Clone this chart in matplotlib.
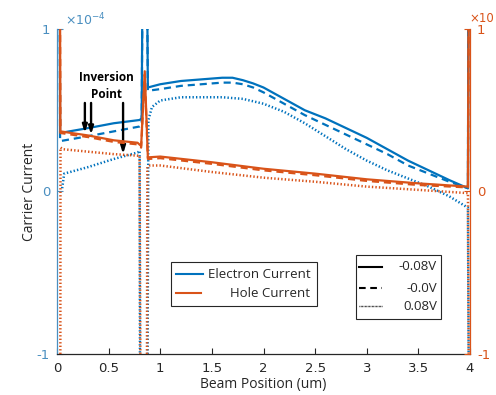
import matplotlib
matplotlib.use("Agg")
import matplotlib.pyplot as plt
from matplotlib.patches import Rectangle

plt.rcParams["axes.unicode_minus"] = False
plt.rcParams["font.family"] = ["DejaVu Sans"]

BLUE = "#0072BD"
ORANGE = "#D95319"
LEFT_AXIS = "#4a8fc0"
TEXT = "#262626"
UI_FONT = "Open Sans"

# ---- Electron current (left axis, x1e-4) ----
e_x_neg = [0.025, 0.03, 0.30, 0.55, 0.80, 0.82, 0.83, 0.87, 0.88, 1.0, 1.2, 1.4, 1.6, 1.7,
           1.8, 1.9, 2.0, 2.1, 2.2, 2.4, 2.6, 2.8, 3.0, 3.2, 3.4, 3.6, 3.8, 3.98, 3.985]
e_y_neg = [1.5, 0.36, 0.39, 0.42, 0.44, 0.45, 1.5, 1.5, 0.64, 0.66, 0.68, 0.69, 0.70, 0.70,
           0.685, 0.665, 0.64, 0.605, 0.57, 0.50, 0.45, 0.39, 0.33, 0.26, 0.19, 0.13, 0.07,
           0.02, 1.5]

e_x_zero = [0.025, 0.03, 0.30, 0.55, 0.80, 0.82, 0.83, 0.87, 0.88, 1.0, 1.2, 1.4, 1.6, 1.7,
            1.8, 1.9, 2.0, 2.1, 2.2, 2.4, 2.6, 2.8, 3.0, 3.2, 3.4, 3.6, 3.8, 3.98, 3.985]
e_y_zero = [1.5, 0.31, 0.34, 0.37, 0.40, 0.41, 1.5, 1.5, 0.62, 0.63, 0.65, 0.66, 0.67, 0.67,
            0.66, 0.64, 0.61, 0.575, 0.54, 0.47, 0.41, 0.35, 0.29, 0.23, 0.16, 0.11, 0.06,
            0.02, 1.5]

e_x_pos = [0.05, 0.07, 0.30, 0.55, 0.78, 0.80, 0.805, 0.875, 0.885, 0.92, 1.0, 1.2, 1.4, 1.6,
           1.8, 2.0, 2.2, 2.4, 2.6, 2.8, 3.0, 3.2, 3.4, 3.6, 3.8, 3.98, 3.99]
e_y_pos = [0.02, 0.11, 0.15, 0.20, 0.24, 0.25, -1.5, -1.5, 0.44, 0.52, 0.56, 0.58, 0.58, 0.58,
           0.57, 0.54, 0.49, 0.42, 0.34, 0.26, 0.19, 0.13, 0.08, 0.03, -0.03, -0.10, -1.5]

# ---- Hole current (right axis) ----
h_x_neg = [0.028, 0.033, 0.30, 0.55, 0.78, 0.815, 0.85, 0.88, 1.0, 1.5, 2.0, 2.5, 3.0, 3.5,
           3.98, 3.99]
h_y_neg = [1.5, 0.37, 0.345, 0.315, 0.30, 0.28, 0.74, 0.21, 0.215, 0.18, 0.14, 0.11, 0.075,
           0.05, 0.03, 1.5]

h_x_zero = [0.028, 0.033, 0.30, 0.55, 0.78, 0.815, 0.85, 0.88, 1.0, 1.5, 2.0, 2.5, 3.0, 3.5,
            3.98, 3.99]
h_y_zero = [1.5, 0.36, 0.335, 0.305, 0.29, 0.27, 0.72, 0.20, 0.205, 0.17, 0.13, 0.10, 0.065,
            0.04, 0.025, 1.5]

h_x_pos = [0.032, 0.034, 0.06, 0.30, 0.55, 0.79, 0.80, 0.81, 0.87, 0.875, 0.90, 1.0, 1.5,
           2.0, 2.5, 3.0, 3.5, 3.98, 3.99]
h_y_pos = [-1.5, 0.27, 0.26, 0.245, 0.23, 0.22, 0.22, -1.5, -1.5, 0.15, 0.16, 0.16, 0.12,
           0.085, 0.06, 0.03, 0.01, -0.01, -1.5]

# ---- Inversion point markers (x, y at arrow tip) ----
inv_x = [0.27, 0.33, 0.64]
inv_y = [0.36, 0.35, 0.23]
inv_tail = 0.545

x_ticks = [0, 0.5, 1, 1.5, 2, 2.5, 3, 3.5, 4]
x_tick_labels = ["0", "0.5", "1", "1.5", "2", "2.5", "3", "3.5", "4"]
y_ticks = [-1, 0, 1]
y_tick_labels = ["-1", "0", "1"]

bias_labels = ["-0.08V", "-0.0V", "0.08V"]
carrier_labels = ["Electron Current", "Hole Current"]

fig = plt.figure(figsize=(4.96, 3.95), dpi=100)
ax = fig.add_axes([0.1149, 0.1038, 0.8327, 0.8228])
ax2 = ax.twinx()

LW = 1.6
DOT = dict(lw=1.8, ls=":", dashes=(0.55, 0.85))
ax.plot(e_x_neg, e_y_neg, color=BLUE, lw=LW, ls="-")
ax.plot(e_x_zero, e_y_zero, color=BLUE, lw=LW, ls="--", dashes=(3.2, 2.2))
ax.plot(e_x_pos, e_y_pos, color=BLUE, **DOT)

ax2.plot(h_x_neg, h_y_neg, color=ORANGE, lw=LW, ls="-")
ax2.plot(h_x_zero, h_y_zero, color=ORANGE, lw=LW, ls="--", dashes=(3.2, 2.2))
ax2.plot(h_x_pos, h_y_pos, color=ORANGE, **DOT)

for a in (ax, ax2):
    a.set_xlim(0, 4)
    a.set_ylim(-1, 1)
    a.spines["top"].set_visible(False)

ax.spines["right"].set_visible(False)
ax.spines["left"].set_color(LEFT_AXIS)
ax.spines["bottom"].set_color(TEXT)
ax2.spines["left"].set_visible(False)
ax2.spines["bottom"].set_visible(False)
ax2.spines["right"].set_color(ORANGE)
for a in (ax, ax2):
    for s in a.spines.values():
        s.set_linewidth(0.9)

ax.set_xticks(x_ticks)
ax.set_xticklabels(x_tick_labels)
ax.set_yticks(y_ticks)
ax.set_yticklabels(y_tick_labels)
ax2.set_yticks(y_ticks)
ax2.set_yticklabels(y_tick_labels)

ax.tick_params(axis="x", direction="in", length=4, width=0.8, colors=TEXT,
               labelsize=9.5, pad=6)
ax.tick_params(axis="y", direction="in", length=4, width=0.8, colors=LEFT_AXIS,
               labelsize=9.5, pad=5)
ax2.tick_params(axis="y", direction="in", length=4, width=0.8, colors=ORANGE,
                labelsize=9.5, pad=5)

ax.set_xlabel("Beam Position (um)", family=UI_FONT, fontsize=10, color=TEXT, labelpad=1)
ax.set_ylabel("Carrier Current", family=UI_FONT, fontsize=10, color=TEXT, labelpad=0)

fig.text(65 / 496, 1 - 20 / 395, r"$\times10^{-4}$", color=LEFT_AXIS, fontsize=9,
         ha="left", va="center")
fig.text(494 / 496, 1 - 18 / 395, "×10", color=ORANGE, fontsize=8.5,
         ha="right", va="center")

# Inversion point call-outs
ax.text(0.48, 0.65, "Inversion\nPoint", ha="center", va="center", fontsize=8.5,
        fontweight="bold", family=UI_FONT, linespacing=1.45, color="black")
for xi, yi in zip(inv_x, inv_y):
    ax.annotate("", xy=(xi, yi), xytext=(xi, inv_tail),
                arrowprops=dict(arrowstyle="-|>,head_length=0.45,head_width=0.14",
                                color="black", lw=1.7, shrinkA=0, shrinkB=0))

# Carrier legend (text right-aligned)
t = ax.transAxes
ax2.add_patch(Rectangle((0.276, 0.148), 0.354, 0.135, transform=t, facecolor="white",
                        edgecolor=TEXT, lw=0.8, zorder=5))
for yy, c, lab, x1 in zip([0.245, 0.187], [BLUE, ORANGE], carrier_labels, [0.354, 0.349]):
    ax2.plot([0.288, x1], [yy, yy], color=c, lw=1.5, transform=t, zorder=6)
    ax2.text(0.613, yy, lab, transform=t, ha="right", va="center", fontsize=9.5,
             family=UI_FONT, color=TEXT, zorder=6)

# Bias legend
ax2.add_patch(Rectangle((0.724, 0.108), 0.206, 0.197, transform=t, facecolor="white",
                        edgecolor=TEXT, lw=0.8, zorder=5))
for yy, ls, lab in zip([0.268, 0.203, 0.147], ["-", "--", ":"], bias_labels):
    kw = {"lw": 1.5}
    if ls == "--":
        kw["dashes"] = (3.2, 2.2)
    elif ls == ":":
        kw["dashes"] = (0.5, 0.5)
        kw["lw"] = 1.0
    ax2.plot([0.731, 0.787], [yy, yy], color="black", ls=ls, transform=t, zorder=6, **kw)
    ax2.text(0.920, yy, lab, transform=t, ha="right", va="center", fontsize=9.5,
             family=UI_FONT, color=TEXT, zorder=6)

fig.savefig("out.png", dpi=100)
